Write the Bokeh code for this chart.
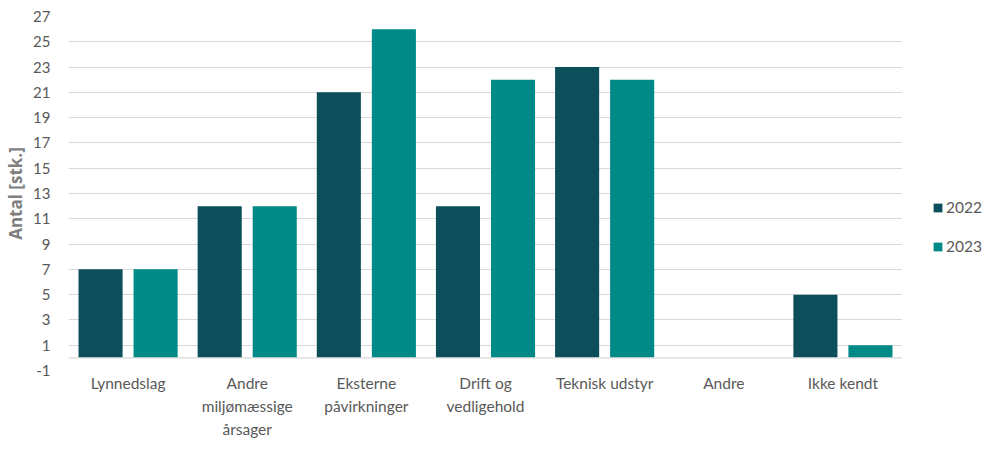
from bokeh.plotting import figure
from bokeh.layouts import row
from bokeh.models import ColumnDataSource, FactorRange, Range1d, FixedTicker, Span, Legend, LegendItem
from bokeh.transform import dodge
from bokeh.embed import file_html
from bokeh.resources import INLINE

# Driftsforstyrrelser fordelt på årsag
categories = ["Lynnedslag", "Andre\nmiljømæssige\nårsager", "Eksterne\npåvirkninger",
              "Drift og\nvedligehold", "Teknisk udstyr", "Andre", "Ikke kendt"]
values_2022 = [7, 12, 21, 12, 23, 0, 5]
values_2023 = [7, 12, 26, 22, 22, 0, 1]
years = ["2022", "2023"]
y_ticks = list(range(-1, 28, 2))

FONT = "Lato"
TEXT = "#595959"
GRID = "#d9d9d9"
C22 = "#0c4f5b"
C23 = "#008a87"

src = ColumnDataSource(dict(cat=categories, v22=values_2022, v23=values_2023))

p = figure(width=902, height=451, x_range=FactorRange(*categories),
           y_range=Range1d(-1, 27), output_backend="svg", toolbar_location=None,
           min_border_left=68, min_border_right=0, min_border_top=16, min_border_bottom=81)
p.outline_line_color = None
p.background_fill_color = "white"

p.vbar(x=dodge("cat", -0.231, range=p.x_range), top="v22", bottom=0, width=0.37,
       source=src, color=C22, line_color=None)
p.vbar(x=dodge("cat", 0.231, range=p.x_range), top="v23", bottom=0, width=0.37,
       source=src, color=C23, line_color=None)

p.add_layout(Span(location=0, dimension="width", line_color=GRID, line_width=1.2))

p.xgrid.grid_line_color = None
p.ygrid.ticker = FixedTicker(ticks=y_ticks)
p.ygrid.grid_line_color = GRID
p.ygrid.grid_line_width = 1.2

p.yaxis.ticker = FixedTicker(ticks=y_ticks)
p.yaxis.major_label_overrides = {t: str(t) for t in y_ticks}
p.yaxis.axis_line_color = None
p.yaxis.major_tick_line_color = None
p.yaxis.minor_tick_line_color = None
p.yaxis.major_label_text_font = FONT
p.yaxis.major_label_text_font_size = "15px"
p.yaxis.major_label_text_color = TEXT
p.yaxis.major_label_standoff = 12
p.yaxis.axis_label = "Antal [stk.]"
p.yaxis.axis_label_text_font = "Open Sans"
p.yaxis.axis_label_text_font_size = "17px"
p.yaxis.axis_label_text_font_style = "bold"
p.yaxis.axis_label_text_color = "#7f7f7f"
p.yaxis.axis_label_standoff = 3

p.xaxis.axis_line_color = None
p.xaxis.major_tick_line_color = None
p.xaxis.minor_tick_line_color = None
p.xaxis.major_label_text_font = FONT
p.xaxis.major_label_text_font_size = "15.5px"
p.xaxis.major_label_text_color = TEXT
p.xaxis.major_label_text_line_height = 1.29
p.xaxis.major_label_standoff = -3

# Legend sits in its own narrow panel to the right of the chart
lg = figure(width=81, height=451, x_range=Range1d(0, 1), y_range=Range1d(0, 1),
            output_backend="svg", toolbar_location=None,
            min_border_left=0, min_border_right=0, min_border_top=0, min_border_bottom=0)
lg.axis.visible = False
lg.grid.visible = False
lg.outline_line_color = None
keys = ColumnDataSource(dict(x=[0], top=[0]))
k22 = lg.vbar(x="x", top="top", width=0.1, source=keys, color=C22, line_color=None)
k23 = lg.vbar(x="x", top="top", width=0.1, source=keys, color=C23, line_color=None)

legend = Legend(items=[LegendItem(label=years[0], renderers=[k22]),
                       LegendItem(label=years[1], renderers=[k23])],
                location=(30, 115), orientation="vertical",
                glyph_width=11, glyph_height=11, spacing=21,
                padding=0, margin=0,
                label_text_font=FONT, label_text_font_size="15.5px",
                label_text_color=TEXT, label_standoff=3,
                border_line_color=None, background_fill_alpha=0)
lg.add_layout(legend)

layout = row(p, lg, spacing=0)
open("out.html", "w").write(file_html(layout, INLINE))
